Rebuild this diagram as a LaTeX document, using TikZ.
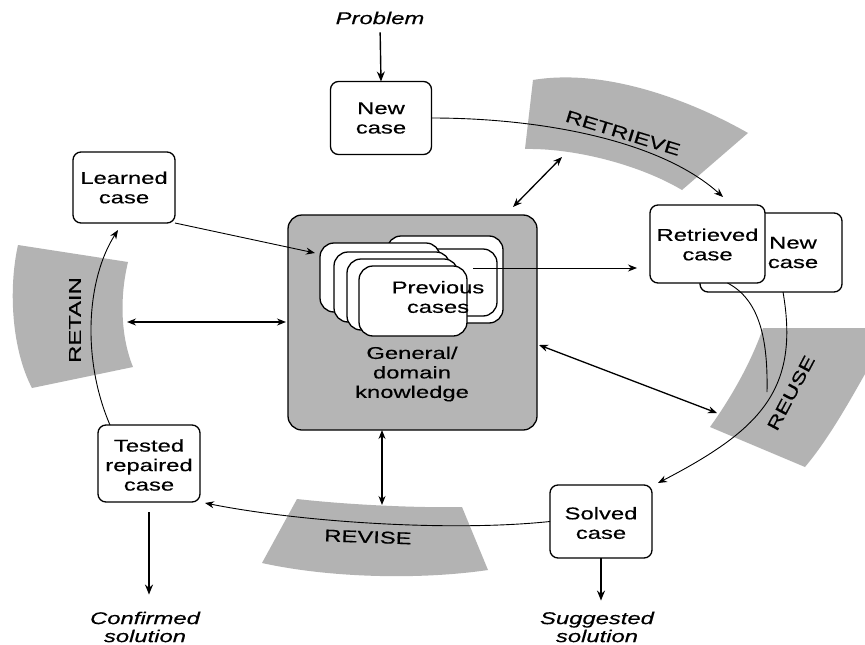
\documentclass[tikz,border=0pt]{standalone}
\usepackage{fontspec}
\setmainfont{Liberation Sans}[FakeStretch=1.4,FakeBold=0.4]
\usetikzlibrary{arrows.meta}
\definecolor{bandgray}{HTML}{B3B3B3}
\definecolor{boxgray}{HTML}{B5B5B5}
\tikzset{
  lbl/.style={font=\fontsize{17}{19.5}\selectfont, align=center, inner sep=0pt},
  ilbl/.style={font=\fontsize{17}{18}\selectfont\itshape, align=center, inner sep=0pt},
  casebox/.style={draw=black, line width=1.3pt, rounded corners=8pt, fill=white, inner sep=0pt, outer sep=0pt},
  card/.style={draw=black, line width=1.3pt, rounded corners=14pt, fill=white, inner sep=0pt, outer sep=0pt},
  kbox/.style={draw=black, line width=1.3pt, rounded corners=14pt, fill=boxgray, inner sep=0pt, outer sep=0pt},
  band/.style={fill=bandgray, draw=none},
  arr/.style={line width=1.4pt, -{Stealth[length=10pt,width=8pt]}},
  darr/.style={line width=1.3pt, {Stealth[length=9pt,width=7pt]}-{Stealth[length=9pt,width=7pt]}},
  flow/.style={line width=0.9pt, -{Stealth[length=9pt,width=7pt]}},
  flowline/.style={line width=0.9pt},
}
\begin{document}
\begin{tikzpicture}[x=1pt,y=-1pt]
\useasboundingbox (0,0) rectangle (865,645);
\clip (0,0) rectangle (865,645);
\fill[white] (0,0) rectangle (865,645);

% ---- grey bands ----
\fill[band] (533,80) .. controls (605,68) and (690,100) .. (748,133)
  -- (682,190) .. controls (640,165) and (575,148) .. (525,149) -- cycle;
\fill[band] (18,245) -- (128,262) .. controls (120,295) and (120,335) .. (133,367)
  -- (32,388) .. controls (12,350) and (8,290) .. (18,245) -- cycle;
\fill[band] (763,328) -- (891,328) .. controls (862,378) and (836,430) .. (805,467)
  -- (710,427) .. controls (733,395) and (752,360) .. (763,328) -- cycle;
\fill[band] (297,499) .. controls (350,505) and (420,508) .. (462,507)
  -- (488,570) .. controls (420,580) and (330,578) .. (262,563) -- cycle;

% ---- knowledge box and case stack ----
\node[kbox, minimum width=249pt, minimum height=215pt] (know) at (412.5,322.5) {};
\node[card, minimum width=116pt, minimum height=87pt] (cA) at (445,279.5) {};
\node[card, minimum width=117pt, minimum height=67pt] (cA2) at (438.5,282.5) {};
\node[card, minimum width=120pt, minimum height=69pt] (cB) at (380,277.5) {};
\node[card, minimum width=116pt, minimum height=70pt] (cC) at (392,287) {};
\node[card, minimum width=111pt, minimum height=71pt] (cD) at (402.5,294.5) {};
\node[card, minimum width=108pt, minimum height=70pt] (cE) at (413,301) {};
\node[lbl] (prevtxt) at (438,297) {Previous\\cases};
\node[lbl] (gdk) at (412,374) {General/\\domain\\knowledge};

% ---- case boxes ----
\node[casebox, minimum width=101pt, minimum height=73pt] (newcase) at (381,118) {};
\node[lbl] at (newcase) {New\\case};
\node[casebox, minimum width=102pt, minimum height=71pt] (learned) at (124,187.5) {};
\node[lbl] at (learned) {Learned\\case};
\node[casebox, minimum width=142pt, minimum height=79pt] (newcase2) at (771,252.5) {};
\node[lbl] (newcase2txt) at (793,252.5) {New\\case};
\node[casebox, minimum width=115pt, minimum height=78pt] (retrieved) at (707.5,244) {};
\node[lbl] at (707.5,244.5) {Retrieved\\case};
\node[casebox, minimum width=102pt, minimum height=77pt] (tested) at (149,463.5) {};
\node[lbl] at (149,465) {Tested\\repaired\\case};
\node[casebox, minimum width=102pt, minimum height=73pt] (solved) at (601,521.5) {};
\node[lbl] at (601,523) {Solved\\case};

% ---- outside texts ----
\node[ilbl] (prob) at (380,18) {Problem};
\node[ilbl] (confirmed) at (145,627) {Confirmed\\solution};
\node[ilbl] (suggested) at (597,627) {Suggested\\solution};

% ---- band labels ----
\node[lbl, rotate=-17] (lretrieve) at (623,133) {RETRIEVE};
\node[lbl, rotate=90] (lretain) at (75,320) {RETAIN};
\node[lbl, rotate=62] (lreuse) at (791,393) {REUSE};
\node[lbl, rotate=-2] (lrevise) at (368,537) {REVISE};

% ---- free-end coordinates ----
\coordinate (retrEnd) at (723,197);
\coordinate (cardsIn) at (315,253);
\coordinate (cardsOut) at (473,268);
\coordinate (krA) at (513,207);
\coordinate (krB) at (562,157);
\coordinate (retainPt) at (127,322);
\coordinate (kuA) at (539,345);
\coordinate (kuB) at (717,413);
\coordinate (revPt) at (382,505);
\coordinate (revEnd) at (205,503);
\coordinate (reuseJoin) at (767,392);
\coordinate (reuseEnd) at (658,483);

% ---- connectors ----
\draw[arr, shorten <=8pt] (prob.south) -- (newcase.north);
\draw[flow] (newcase.east) .. controls (540,118) and (660,140) .. (retrEnd);
\draw[flow] (learned.south east) -- (cardsIn);
\draw[flow] (cardsOut) -- ([xshift=-13pt]retrieved.west |- cardsOut);
\draw[darr] (krA) -- (krB);
\draw[darr] (retainPt) -- ([xshift=-2pt]know.west |- retainPt);
\draw[darr] (kuA) -- (kuB);
\draw[darr] (revPt |- know.south) -- (revPt);
\draw[flow] ([xshift=-39pt]tested.north) .. controls (82,360) and (86,280) .. ([xshift=-6pt,yshift=-7pt]learned.south);
\draw[flow] (solved.west) .. controls (450,532) and (300,522) .. (revEnd);
\draw[flowline] ([xshift=20pt]retrieved.south) .. controls (760,300) and (768,340) .. (reuseJoin);
\draw[flow] ([xshift=12pt]newcase2.south) .. controls (800,390) and (760,430) .. (reuseEnd);
\draw[arr, shorten <=10pt] (tested.south) -- ([yshift=17pt]tested.south |- confirmed.north);
\draw[arr] (solved.south) -- ([yshift=11pt]solved.south |- suggested.north);
\end{tikzpicture}
\end{document}
